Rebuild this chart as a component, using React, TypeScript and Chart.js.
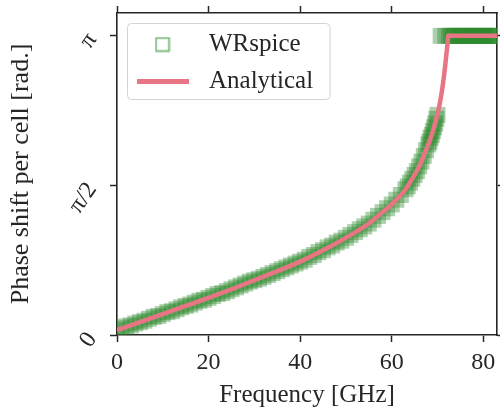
import React, { useEffect, useRef } from 'react';
import { Chart, registerables } from 'chart.js';

Chart.register(...registerables);

// ---- data ----
const seriesLabels = ['WRspice', 'Analytical'];

const anFreq = [0, 5, 10, 15, 20, 25, 30, 35, 40, 45, 50, 55, 58, 60, 61, 62, 63, 64, 65, 66, 67, 68, 69, 70, 70.5, 71, 71.5, 72, 72.2, 72.35, 75, 80, 84];
const anPhase = [0.05, 0.135, 0.22, 0.305, 0.39, 0.48, 0.575, 0.67, 0.77, 0.89, 1.02, 1.17, 1.29, 1.37, 1.42, 1.47, 1.53, 1.6, 1.68, 1.77, 1.88, 2.0, 2.14, 2.32, 2.43, 2.57, 2.75, 2.97, 3.06, 3.14, 3.14, 3.14, 3.14];

const wrFreq = [
  0, 1, 2, 3, 4, 5, 6, 7, 8, 9, 10, 11, 12, 13, 14, 15, 16, 17, 18, 19, 20,
  21, 22, 23, 24, 25, 26, 27, 28, 29, 30, 31, 32, 33, 34, 35, 36, 37, 38, 39, 40,
  41, 42, 43, 44, 45, 46, 47, 48, 49, 50, 51, 52, 53, 54, 55, 56, 57, 58, 59, 60,
  61, 62, 63, 63.5, 64, 64.5, 65, 65.5, 66, 66.5, 67, 67.5, 68, 68.25, 68.5, 68.75, 69, 69.25, 69.5, 69.75, 70,
  70.7, 71.7, 72.5, 73, 73.5, 74, 74.5, 75, 75.5, 76, 76.5, 77, 77.5, 78, 78.5, 79, 79.5, 80, 80.5, 81, 81.5, 82, 82.5, 83, 83.5, 84,
];
const wrPhase = [
  0.05, 0.07, 0.09, 0.1, 0.12, 0.135, 0.15, 0.17, 0.19, 0.2, 0.22, 0.24, 0.25, 0.27, 0.29, 0.305, 0.32, 0.34, 0.36, 0.37, 0.39,
  0.41, 0.43, 0.44, 0.46, 0.48, 0.5, 0.52, 0.54, 0.56, 0.575, 0.59, 0.61, 0.63, 0.65, 0.67, 0.69, 0.71, 0.73, 0.75, 0.77,
  0.79, 0.82, 0.84, 0.87, 0.89, 0.92, 0.94, 0.97, 0.99, 1.02, 1.05, 1.08, 1.11, 1.14, 1.17, 1.21, 1.25, 1.29, 1.33, 1.37,
  1.42, 1.47, 1.53, 1.56, 1.6, 1.64, 1.68, 1.72, 1.77, 1.82, 1.88, 1.94, 2.0, 2.03, 2.07, 2.1, 2.14, 2.18, 2.22, 2.27, 2.31,
  3.14, 3.14, 3.14, 3.14, 3.14, 3.14, 3.14, 3.14, 3.14, 3.14, 3.14, 3.14, 3.14, 3.14, 3.14, 3.14, 3.14, 3.14, 3.14, 3.14, 3.14, 3.14, 3.14, 3.14, 3.14, 3.14,
];

const xTickValues = [0, 20, 40, 60, 80];
const yTickValues = [0, Math.PI / 2, Math.PI];
const yTickLabels = ['0', 'π/2', 'π'];
const xRange = [0, 83];
const yRange = [0, 3.38];
const xTitle = 'Frequency [GHz]';
const yTitle = 'Phase shift per cell [rad.]';

// ---- styles ----
const FONT = "'Liberation Serif', 'Times New Roman', serif";
const INK = '#262626';
const GREEN_FILL = 'rgba(40,135,40,0.38)';
const RED = 'rgb(232,117,131)';

function makeSquareIcon(): HTMLCanvasElement {
  const c = document.createElement('canvas');
  c.width = 16;
  c.height = 16;
  const g = c.getContext('2d')!;
  g.strokeStyle = 'rgba(60,150,60,0.75)';
  g.lineWidth = 1.6;
  g.strokeRect(1.5, 1.5, 13, 13);
  return c;
}

function makeLineIcon(): HTMLCanvasElement {
  const c = document.createElement('canvas');
  c.width = 52;
  c.height = 5;
  const g = c.getContext('2d')!;
  g.fillStyle = RED;
  g.fillRect(0, 0, 52, 5);
  return c;
}

const legendFrame = {
  id: 'legendFrame',
  beforeDraw(chart: any) {
    const lg = chart.legend;
    if (!lg || !lg.legendHitBoxes || !lg.legendHitBoxes.length) return;
    const boxes = lg.legendHitBoxes;
    let l = Infinity, t = Infinity, r = -Infinity, b = -Infinity;
    for (const h of boxes) {
      l = Math.min(l, h.left);
      t = Math.min(t, h.top);
      r = Math.max(r, h.left + h.width);
      b = Math.max(b, h.top + h.height);
    }
    const x0 = l - 1, y0 = t - 8.5, x1 = r + 17, y1 = b + 6;
    const ctx = chart.ctx;
    ctx.save();
    ctx.beginPath();
    if ((ctx as any).roundRect) (ctx as any).roundRect(x0, y0, x1 - x0, y1 - y0, 4);
    else ctx.rect(x0, y0, x1 - x0, y1 - y0);
    ctx.fillStyle = 'rgba(255,255,255,0.85)';
    ctx.fill();
    ctx.strokeStyle = '#d4d4d4';
    ctx.lineWidth = 1;
    ctx.stroke();
    ctx.restore();
  },
};

const gridOpts = {
  drawOnChartArea: false,
  drawTicks: true,
  tickLength: 7,
  tickWidth: 1.5,
  tickColor: INK,
};
const borderOpts = { display: true, color: INK, width: 1.6 };

const noPad = (s: any) => {
  s.paddingTop = 0;
  s.paddingBottom = 0;
  s.paddingLeft = 0;
  s.paddingRight = 0;
};

export default function App() {
  const ref = useRef<HTMLCanvasElement | null>(null);

  useEffect(() => {
    document.body.style.margin = '0';
    const canvas = ref.current;
    if (!canvas) return;
    const squareIcon = makeSquareIcon();
    const lineIcon = makeLineIcon();

    const setX = (s: any) => {
      s.ticks = xTickValues.map((v) => ({ value: v }));
    };
    const setY = (s: any) => {
      s.ticks = yTickValues.map((v) => ({ value: v }));
    };

    const chart = new Chart(canvas, {
      type: 'scatter',
      data: {
        datasets: [
          {
            label: seriesLabels[0],
            data: wrFreq.map((f, i) => ({ x: f, y: wrPhase[i] })),
            pointStyle: 'rect',
            pointRadius: 11.3,
            backgroundColor: GREEN_FILL,
            borderColor: 'rgba(0,0,0,0)',
            borderWidth: 0,
            showLine: false,
            clip: 0,
            order: 1,
          } as any,
          {
            label: seriesLabels[1],
            data: anFreq.map((f, i) => ({ x: f, y: anPhase[i] })),
            showLine: true,
            borderColor: RED,
            backgroundColor: RED,
            borderWidth: 4.5,
            pointRadius: 0,
            cubicInterpolationMode: 'monotone',
            clip: 0,
            order: 0,
          } as any,
        ],
      },
      options: {
        responsive: false,
        animation: false,
        devicePixelRatio: 1,
        events: [],
        layout: { padding: 0, autoPadding: false },
        scales: {
          x: {
            type: 'linear',
            position: 'bottom',
            min: xRange[0],
            max: xRange[1],
            afterBuildTicks: setX,
            afterFit: (s: any) => {
              s.height = 77;
              noPad(s);
            },
            ticks: { font: { family: FONT, size: 24 }, color: INK, padding: 6, maxRotation: 0, autoSkip: false },
            grid: gridOpts,
            border: borderOpts,
            title: {
              display: true,
              text: xTitle,
              color: INK,
              font: { family: FONT, size: 25 },
              padding: { top: 0, bottom: 2 },
            },
          },
          x2: {
            type: 'linear',
            position: 'top',
            min: xRange[0],
            max: xRange[1],
            afterBuildTicks: setX,
            afterFit: (s: any) => {
              s.height = 13;
              noPad(s);
            },
            ticks: { display: false },
            grid: gridOpts,
            border: borderOpts,
          },
          y: {
            type: 'linear',
            position: 'left',
            min: yRange[0],
            max: yRange[1],
            afterBuildTicks: setY,
            afterFit: (s: any) => {
              s.width = 117;
              noPad(s);
            },
            ticks: {
              callback: (_v: any, i: number) => yTickLabels[i],
              font: { family: FONT, size: 24 },
              color: INK,
              padding: 18,
              minRotation: 55,
              maxRotation: 55,
              autoSkip: false,
            },
            grid: gridOpts,
            border: borderOpts,
            title: {
              display: true,
              text: yTitle,
              color: INK,
              font: { family: FONT, size: 26 },
              padding: { top: 6, bottom: 0 },
            },
          },
          y2: {
            type: 'linear',
            position: 'right',
            min: yRange[0],
            max: yRange[1],
            afterBuildTicks: setY,
            afterFit: (s: any) => {
              s.width = 3;
              noPad(s);
            },
            ticks: { display: false },
            grid: gridOpts,
            border: borderOpts,
          },
        } as any,
        plugins: {
          tooltip: { enabled: false },
          legend: {
            display: true,
            position: 'chartArea',
            align: 'start',
            title: { display: true, text: ' ', font: { size: 5, lineHeight: 4.1 }, padding: 0 },
            labels: {
              font: { family: FONT, size: 25 },
              color: INK,
              usePointStyle: true,
              pointStyleWidth: 68,
              boxHeight: 25,
              padding: 11.5,
              sort: (a: any, b: any) => a.datasetIndex - b.datasetIndex,
              generateLabels: (ch: any) => {
                const items = (Chart.defaults.plugins.legend.labels as any).generateLabels(ch);
                return items.map((it: any) => ({
                  ...it,
                  pointStyle: it.datasetIndex === 0 ? squareIcon : lineIcon,
                  fontColor: INK,
                  lineWidth: 0,
                }));
              },
            },
          } as any,
        },
      },
      plugins: [legendFrame],
    });

    return () => chart.destroy();
  }, []);

  return (
    <div style={{ width: 500, height: 412, background: '#fff' }}>
      <canvas ref={ref} width={500} height={412} style={{ display: 'block' }} />
    </div>
  );
}
